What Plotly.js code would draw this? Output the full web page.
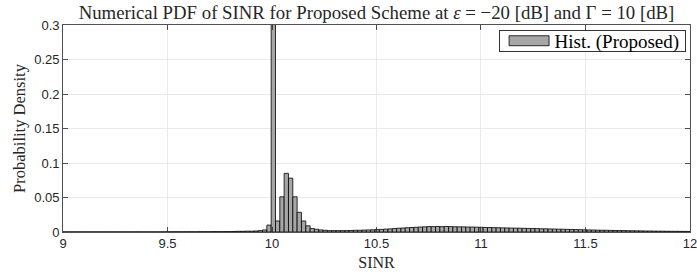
<!DOCTYPE html>
<html>
<head>
<meta charset="utf-8">
<script src="https://cdn.plot.ly/plotly-3.0.1.min.js"></script>
<style>html,body{margin:0;padding:0;background:#fff;}#chart{width:697px;height:279px;}</style>
</head>
<body>
<div id="chart"></div>
<script>
// Histogram bins (SINR): first bin left edge and bin width
const firstBinEdge = 8.9817;
const binWidth = 0.0207;
// Probability density per bin (left to right)
const leftTail = [
  0.0002,0.0002,0.0002,0.0002,0.0002,0.0002,0.0002,0.0002,0.0002,0.0002,
  0.0002,0.0002,0.0002,0.0002,0.0002,0.0002,0.0002,0.0002,0.0002,0.0002,
  0.0002,0.0002,0.0002,0.0002,0.0002,0.0003,0.0003,0.0003,0.0003,0.0003,
  0.0003,0.0003,0.0004,0.0004,0.0004,0.0005,0.0005,0.0005,0.0006,0.0006,
  0.0008,0.0010,0.0010,0.0012,0.0012,0.0015,0.0020,0.0030,0.0100
];
const peakRegion = [0.70,0.016,0.051,0.085,0.078,0.051,0.0285,0.016,0.009,0.005,0.004,0.003];
const rightTail = [
  0.0025,0.0020,0.0020,0.0020,0.0020,0.0020,0.0022,0.0025,0.0025,0.0028,
  0.0030,0.0032,0.0035,0.0038,0.0042,0.0045,0.0050,0.0055,0.0058,0.0062,
  0.0065,0.0068,0.0072,0.0075,0.0078,0.0078,0.0080,0.0078,0.0080,0.0078,
  0.0076,0.0075,0.0074,0.0072,0.0072,0.0070,0.0068,0.0066,0.0065,0.0063,
  0.0062,0.0060,0.0059,0.0057,0.0056,0.0055,0.0053,0.0052,0.0050,0.0049,
  0.0047,0.0046,0.0044,0.0043,0.0041,0.0040,0.0038,0.0037,0.0035,0.0034,
  0.0032,0.0030,0.0029,0.0027,0.0026,0.0025,0.0023,0.0022,0.0021,0.0020,
  0.0019,0.0018,0.0017,0.0016,0.0015,0.0014,0.0013,0.0012,0.0012,0.0011,
  0.0010,0.0010,0.0009,0.0009,0.0008
];
const xTickVals = [9, 9.5, 10, 10.5, 11, 11.5, 12];
const xTickText = ['9', '9.5', '10', '10.5', '11', '11.5', '12'];
const yTickVals = [0, 0.05, 0.1, 0.15, 0.2, 0.25, 0.3];
const yTickText = ['0', '0.05', '0.1', '0.15', '0.2', '0.25', '0.3'];
const seriesName = 'Hist. (Proposed)';

const density = leftTail.concat(peakRegion, rightTail);
const binCenters = density.map((_, i) => firstBinEdge + binWidth * (i + 0.5));

const serif = 'Liberation Serif, DejaVu Serif, serif';
const sans = 'Liberation Sans, Arial, sans-serif';

const trace = {
  type: 'bar',
  x: binCenters,
  y: density,
  width: binWidth,
  name: seriesName,
  marker: {color: '#a6a6a6', line: {color: '#000000', width: 0.8}},
  showlegend: true
};

const layout = {
  width: 697, height: 279,
  margin: {l: 63, r: 7, t: 25, b: 47},
  paper_bgcolor: '#ffffff', plot_bgcolor: '#ffffff',
  title: {text: 'Numerical PDF of SINR for Proposed Scheme at <i>ε</i> = −20 [dB] and Γ = 10 [dB]',
          font: {family: serif, size: 18.8, color: '#262626'},
          x: 0.5, xref: 'paper', y: 0.955, yanchor: 'middle'},
  bargap: 0,
  showlegend: true,
  legend: {x: 0.695, y: 0.975, xanchor: 'left', yanchor: 'top',
           bgcolor: '#ffffff', bordercolor: '#000000', borderwidth: 0.8,
           font: {family: serif, size: 19, color: '#000000'},
           itemwidth: 45, tracegroupgap: 0},
  xaxis: {range: [8.9999, 12.0001], tickvals: xTickVals, ticktext: xTickText,
          ticklabeloverflow: 'allow',
          ticks: 'inside', ticklen: 5, tickcolor: '#262626', tickwidth: 0.8,
          showline: true, linecolor: '#262626', linewidth: 0.8, mirror: 'ticks',
          showgrid: true, gridcolor: '#e5e5e5', gridwidth: 0.8, zeroline: false,
          tickfont: {family: sans, size: 13, color: '#262626'},
          title: {text: 'SINR', font: {family: serif, size: 16, color: '#262626'}, standoff: 6}},
  yaxis: {range: [0, 0.3], tickvals: yTickVals, ticktext: yTickText,
          ticks: 'inside', ticklen: 5, tickcolor: '#262626', tickwidth: 0.8,
          showline: true, linecolor: '#262626', linewidth: 0.8, mirror: 'ticks',
          showgrid: true, gridcolor: '#e5e5e5', gridwidth: 0.8, zeroline: false,
          tickfont: {family: sans, size: 13, color: '#262626'},
          title: {text: 'Probability Density', font: {family: serif, size: 16.5, color: '#262626'}, standoff: 4}}
};

Plotly.newPlot('chart', [trace], layout, {displayModeBar: false, staticPlot: true}).then(function (gd) {
  // Widen the legend patch to look like MATLAB's rectangle swatch
  gd.querySelectorAll('.legend .legendpoints path').forEach(function (p) {
    p.setAttribute('d', 'M-18,5H22V-5H-18Z');
  });
  // Tighten the legend box height like MATLAB's compact legend
  const bg = gd.querySelector('.legend rect.bg');
  if (bg) {
    const h = parseFloat(bg.getAttribute('height'));
    const newH = 21;
    const shift = (h - newH) / 2;
    bg.setAttribute('height', newH);
    const groups = gd.querySelector('.legend .scrollbox');
    if (groups) {
      const tr = groups.getAttribute('transform') || '';
      groups.setAttribute('transform', tr + ' translate(0,' + (-shift) + ')');
    }
  }
});
</script>
</body>
</html>
